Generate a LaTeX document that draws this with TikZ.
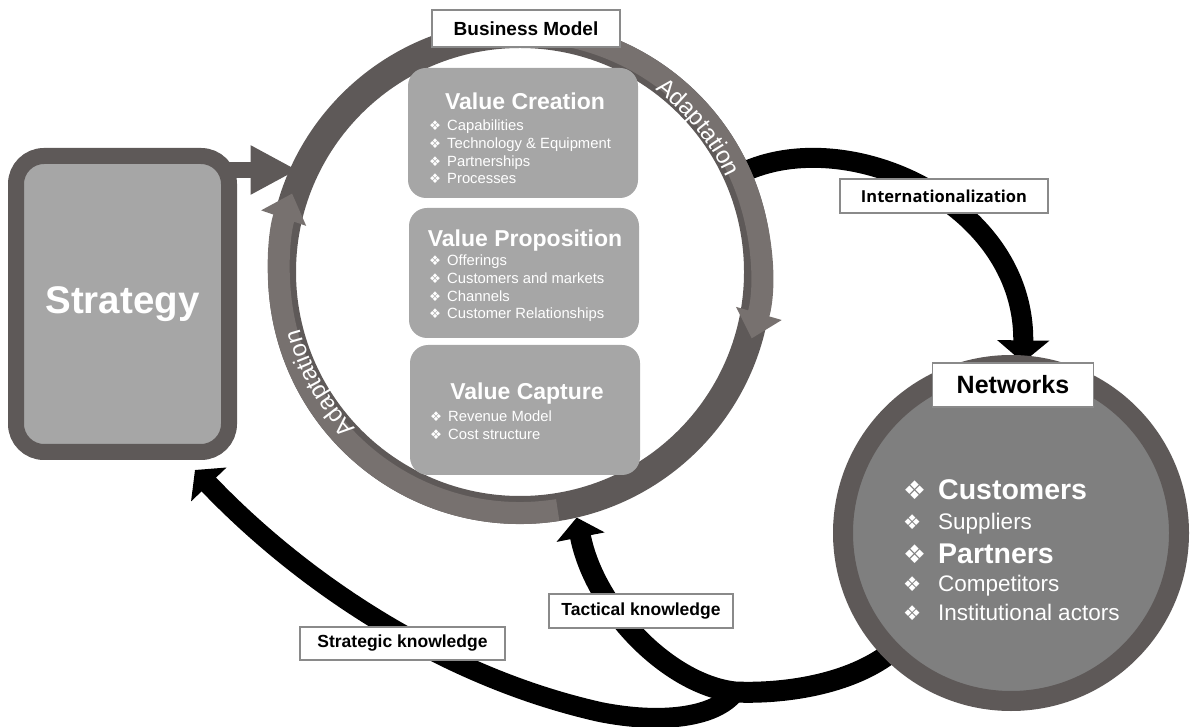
\documentclass[tikz,border=0pt]{standalone}
\usepackage{fontspec}
\setmainfont{Liberation Sans}
\newfontfamily\symfont{DejaVu Sans}
\newfontfamily\intfont{Open Sans}
\usepackage{tikz}
\usetikzlibrary{arrows.meta,backgrounds,calc,decorations.text}

\definecolor{ringdark}{HTML}{5E5958}
\definecolor{ringlight}{HTML}{77716F}
\definecolor{boxgray}{HTML}{A6A6A6}
\definecolor{netgray}{HTML}{7F7F7F}
\definecolor{tagline}{HTML}{8A8A8A}

\newcommand{\vbul}{\makebox[18pt][l]{\symfont\scalebox{0.9}{❖}}}
\newcommand{\nbul}{\makebox[35pt][l]{\symfont\scalebox{0.9}{❖}}}

\tikzset{
  bmring/.style={ draw=ringdark, line width=28pt, circle, minimum size=476pt, inner sep=0pt }
}
\tikzset{
  adaptarc/.style={ draw=ringlight, line width=22pt, -{Triangle[width=46pt,length=26pt]} }
}
\tikzset{
  adapttext/.style={ decorate, decoration={text along path, text={|\fontsize{24}{24}\selectfont|Adaptation}, text align=center, text color=white} }
}
\tikzset{
  valbox/.style={ fill=boxgray, rounded corners=18pt, minimum width=230pt, minimum height=130pt, inner sep=0pt },
  valtitle/.style={ text=white, font=\bfseries\fontsize{23}{23}\selectfont, anchor=base, inner sep=0pt },
  vallist/.style={ text=white, font=\fontsize{14.8}{17.6}\selectfont, anchor=base west, inner sep=0pt }
}
\tikzset{
  stratbox/.style={ draw=ringdark, line width=16pt, fill=boxgray, rounded corners=28pt, minimum width=213pt, minimum height=296pt, text=white, font=\bfseries\fontsize{38.5}{38.5}\selectfont }
}
\tikzset{
  netcircle/.style={ draw=ringdark, line width=20pt, fill=netgray, circle, minimum size=336pt, inner sep=0pt },
  netitem/.style={ text=white, anchor=base west, inner sep=0pt }
}
\tikzset{
  tagbox/.style={ draw=tagline, line width=1.2pt, fill=white, inner sep=0pt, font=\bfseries\fontsize{17.5}{17.5}\selectfont }
}
\tikzset{
  blackarrow/.style={ draw=black, line width=20pt, -{Triangle[width=48pt,length=20pt]} },
  stratarrow/.style={ draw=ringdark, line width=16pt, -{Triangle[width=46pt,length=47pt]} }
}

\begin{document}
\begin{tikzpicture}[x=1pt, y=1pt]
      \useasboundingbox (0,0) rectangle (1196,726);
      % business model ring
      \node[bmring] (bm) at (520,454) {};
      \draw[adaptarc] ($(bm.center)+(80:241pt)$) arc[start angle=80, end angle=-16, radius=241pt];
      \draw[adaptarc] ($(bm.center)+(-81:241pt)$) arc[start angle=-81, end angle=-199, radius=241pt];
      \path[adapttext] ($(bm.center)+(75:227pt)$) arc[start angle=75, end angle=3, radius=227pt];
      \path[adapttext] ($(bm.center)+(245:227pt)$) arc[start angle=245, end angle=173, radius=227pt];
      % value boxes
      \node[valbox] (vcre) at (523,593) {};
      \node[valtitle] (vcretitle) at (525,616) {Value Creation};
      \node[vallist] (vcrelist) at (429,595) {\begin{tabular}[t]{@{}l@{}}\vbul Capabilities\\ \vbul Technology \& Equipment\\ \vbul Partnerships\\ \vbul Processes\end{tabular}};
      \node[valbox] (vpro) at (524,453) {};
      \node[valtitle] (vprotitle) at (525,479) {Value Proposition};
      \node[vallist] (vprolist) at (429,460) {\begin{tabular}[t]{@{}l@{}}\vbul Offerings\\ \vbul Customers and markets\\ \vbul Channels\\ \vbul Customer Relationships\end{tabular}};
      \node[valbox] (vcap) at (525,316) {};
      \node[valtitle] (vcaptitle) at (527,326) {Value Capture};
      \node[vallist] (vcaplist) at (430,304) {\begin{tabular}[t]{@{}l@{}}\vbul Revenue Model\\ \vbul Cost structure\end{tabular}};
      \node[tagbox, minimum width=188pt, minimum height=37pt, font=\bfseries\fontsize{19}{19}\selectfont] (bmlbl) at (526,697.5) {Business Model};
      % strategy
      \node[stratbox] (strat) at (122.5,422) {Strategy};
      % networks
      \node[netcircle] (net) at (1011,193) {};
      \node[tagbox, minimum width=161pt, minimum height=44pt, font=\bfseries\fontsize{25}{25}\selectfont] (netlbl) at (1013,341) {Networks};
      \node[netitem, font=\bfseries\fontsize{28.5}{28.5}\selectfont] (cust) at (903,226) {\nbul Customers};
      \node[netitem, font=\fontsize{22.5}{22.5}\selectfont] (supp) at (903,197) {\nbul Suppliers};
      \node[netitem, font=\bfseries\fontsize{28.5}{28.5}\selectfont] (part) at (903,163) {\nbul Partners};
      \node[netitem, font=\fontsize{22.5}{22.5}\selectfont] (comp) at (903,135) {\nbul Competitors};
      \node[netitem, font=\fontsize{22.5}{22.5}\selectfont] (inst) at (903,106) {\nbul Institutional actors};
      % arrow labels
      \node[tagbox, minimum width=208pt, minimum height=34pt, font=\intfont\bfseries\fontsize{16.5}{16.5}\selectfont] (intlbl) at (944,530) {Internationalization};
      \node[tagbox, minimum width=184pt, minimum height=34pt] (taclbl) at (641,115) {Tactical knowledge};
      \node[tagbox, minimum width=205pt, minimum height=33pt] (strlbl) at (402.5,82.5) {Strategic knowledge};
      \begin{scope}[on background layer]
        \coordinate (fork) at (735,34);
        \coordinate (tacstart) at ($(net.center)!0.93!(net.225)$);
        \draw[blackarrow, line width=21pt] (tacstart) .. controls (850,40) and (780,32) .. (fork) .. controls (670,41) and (595,116) .. (bm.283);
        \draw[blackarrow] (fork) .. controls (715,8) and (660,2) .. (600,14) .. controls (440,50) and (300,146) .. ([xshift=-42pt,yshift=-10pt]strat.south east);
        \coordinate (intstart) at ($(bm.center)!0.94!(bm.24)$);
        \draw[blackarrow, -{Triangle[width=51pt,length=22pt]}] (intstart) .. controls (840,606) and (1025,526) .. ([xshift=10pt]netlbl.north);
        \coordinate (sa) at ([xshift=-20pt,yshift=-22pt]strat.north east);
        \draw[stratarrow] (sa) -- (sa -| bm.152);
      \end{scope}
    \end{tikzpicture}
\end{document}
